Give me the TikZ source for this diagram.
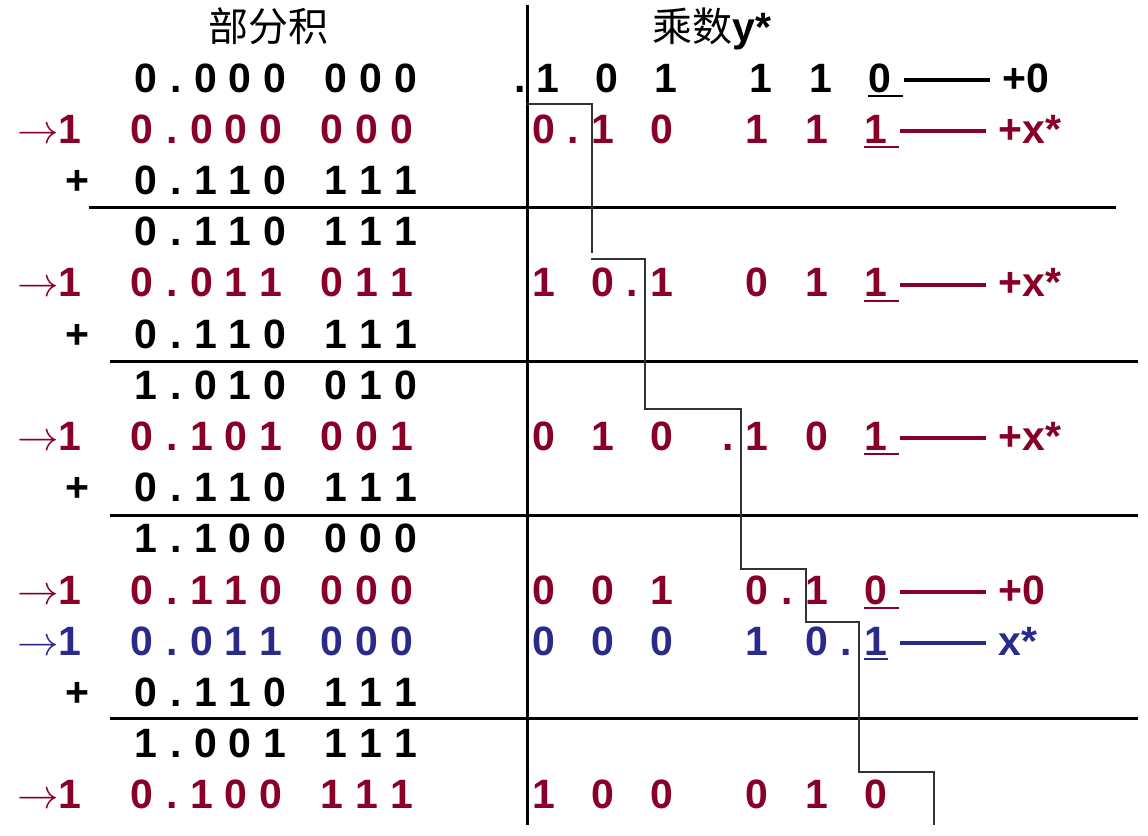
\documentclass[tikz,border=0pt]{standalone}
\usepackage{fontspec}
\setmainfont{Liberation Sans}
\newfontfamily\cjk{Noto Sans CJK SC}
\usetikzlibrary{
  positioning,
  calc,
}
\definecolor{numRed}{HTML}{880028}
\definecolor{numBlue}{HTML}{2A2A8A}
\definecolor{stairGray}{HTML}{333333}
\newcommand{\numfont}{\bfseries\fontsize{20.5}{24}\selectfont}
\tikzset{
  num/.style={font=\numfont, inner sep=0pt, anchor=base},
  blk/.style={num, color=black, xshift=2pt},
  rd/.style={num, color=numRed},
  bl/.style={num, color=numBlue},
  head/.style={font=\cjk\fontsize{20}{24}\selectfont, inner sep=0pt, anchor=base},
  hrule/.style={line width=1.5pt, black},
  stair/.style={line width=0.6pt, stairGray},
  link/.style={line width=2pt, shorten <=6pt, shorten >=6pt},
  uline/.style={line width=1pt},
}

\begin{document}
\begin{tikzpicture}[x=0.5pt, y=-0.5pt]
  \useasboundingbox (0,0) rectangle (1148,836);

  % Headers
  \node[head] (hPart) at (268,41) {部分积};
  \node[head] (hMult) at (712,41) {乘数{\rmfamily\numfont y*}};

  % Frame lines
  \draw[hrule] (527,5) -- (527,825);
  \draw[hrule] (89,207) -- (1116,207);
  \foreach \y in {361,515,718}
    \draw[hrule] (110,\y) -- (1138,\y);

  % Staircase
  \draw[stair] (527,104) -| (592,253);
  \draw[stair] (591,259) -| (645,409) -| (741,569) -| (806,622) -| (859,772) -| (934,825);

  % Partial products
  \foreach \r/\sty/\digs in {
    1/blk/{0,0,0,0,0,0,0},  2/rd/{0,0,0,0,0,0,0},  3/blk/{0,1,1,0,1,1,1},
    4/blk/{0,1,1,0,1,1,1},  5/rd/{0,0,1,1,0,1,1},  6/blk/{0,1,1,0,1,1,1},
    7/blk/{1,0,1,0,0,1,0},  8/rd/{0,1,0,1,0,0,1},  9/blk/{0,1,1,0,1,1,1},
    10/blk/{1,1,0,0,0,0,0}, 11/rd/{0,1,1,0,0,0,0}, 12/bl/{0,0,1,1,0,0,0},
    13/blk/{0,1,1,0,1,1,1}, 14/blk/{1,0,0,1,1,1,1}, 15/rd/{0,1,0,0,1,1,1}} {
    \pgfmathsetmacro\yb{92+51.2*(\r-1)}
    \foreach \dg [count=\i] in \digs {
      \pgfmathsetmacro\xd{{142,202,236,271,332,367,402}[\i-1]}
      \node[\sty] (l\r-\i) at (\xd,\yb) {\dg};
    }
    \node[\sty] (l\r-dot) at (172,\yb) {.};
  }

  % Shift marks and additions
  \foreach \r/\sty in {2/rd, 5/rd, 8/rd, 11/rd, 12/bl, 15/rd}
    \node[\sty, anchor=base west] (a\r) at (17,{92+51.2*(\r-1)}) {$\rightarrow$1};
  \foreach \r in {3,6,9,13}
    \node[num] (p\r) at (77,{92+51.2*(\r-1)}) {+};

  % Multiplier
  \foreach \r/\sty/\chars/\last/\lab/\ue in {
    1/blk/{516/.,544/1,603/0,662/1,757/1,817/1}/0/{+0}/5.5,
    2/rd/{544/0,573/.,603/1,662/0,757/1,817/1}/1/{+x*}/5.5,
    5/rd/{544/1,603/0,632/.,662/1,757/0,817/1}/1/{+x*}/5.5,
    8/rd/{544/0,603/1,662/0,728/.,757/1,817/0}/1/{+x*}/5.5,
    11/rd/{544/0,603/0,662/1,757/0,787/.,817/1}/0/{+0}/5.5,
    12/bl/{544/0,603/0,662/0,757/1,817/0,846/.}/1/{x*}/0} {
    \pgfmathsetmacro\yb{92+51.2*(\r-1)}
    \foreach \x/\ch [count=\i] in \chars
      \node[\sty] (r\r-\i) at (\x,\yb) {\ch};
    \node[\sty] (b\r) at (876,\yb) {\last};
    \node[\sty, anchor=base west] (y\r) at (998,\yb) {\lab};
    \draw[uline, \sty] ([yshift=-2pt]b\r.base west) -- ([yshift=-2pt, xshift=\ue pt]b\r.base east);
    \draw[link, \sty] ([yshift=6pt]b\r.base east) -- ([yshift=6pt]y\r.base west);
  }
  \foreach \x/\ch [count=\i] in {544/1,603/0,662/0,757/0,817/1,876/0}
    \node[rd] (r15-\i) at (\x,{92+51.2*14}) {\ch};

\end{tikzpicture}
\end{document}
